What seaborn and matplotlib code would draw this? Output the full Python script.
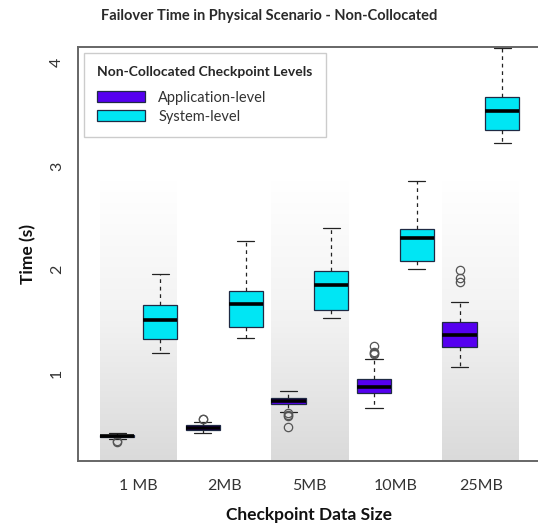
import numpy as np
import pandas as pd
import matplotlib
matplotlib.use("Agg")
import matplotlib.pyplot as plt
import seaborn as sns
from matplotlib.colors import LinearSegmentedColormap

# ---------------- data ----------------
sizes = ["1 MB", "2MB", "5MB", "10MB", "25MB"]
levels = ["Application-level", "System-level"]

app_1mb = [0.338, 0.343, 0.360, 0.382, 0.388, 0.391, 0.394, 0.398, 0.401, 0.405, 0.410, 0.415, 0.420]
app_2mb = [0.423, 0.435, 0.445, 0.454, 0.460, 0.466, 0.471, 0.477, 0.485, 0.493, 0.529, 0.556, 0.560]
app_5mb = [0.480, 0.580, 0.595, 0.610, 0.626, 0.700, 0.706, 0.712, 0.718, 0.724, 0.729,
           0.734, 0.740, 0.745, 0.750, 0.756, 0.765, 0.780, 0.795, 0.810, 0.826]
app_10mb = [0.659, 0.700, 0.740, 0.770, 0.790, 0.804, 0.815, 0.828, 0.840, 0.851, 0.862,
            0.875, 0.890, 0.905, 0.920, 0.939, 1.132, 1.180, 1.190, 1.206, 1.261]
app_25mb = [1.061, 1.120, 1.180, 1.220, 1.251, 1.280, 1.310, 1.340, 1.367,
            1.400, 1.430, 1.460, 1.496, 1.689, 1.882, 1.921, 1.995]

sys_1mb = [1.193, 1.332, 1.515, 1.657, 1.960]
sys_2mb = [1.338, 1.444, 1.664, 1.792, 2.275]
sys_5mb = [1.528, 1.612, 1.850, 1.988, 2.400]
sys_10mb = [2.002, 2.085, 2.301, 2.395, 2.855]
sys_25mb = [3.219, 3.348, 3.531, 3.670, 4.140]

app_data = [app_1mb, app_2mb, app_5mb, app_10mb, app_25mb]
sys_data = [sys_1mb, sys_2mb, sys_5mb, sys_10mb, sys_25mb]

rows = []
for size, a, s in zip(sizes, app_data, sys_data):
    rows += [(size, levels[0], v) for v in a]
    rows += [(size, levels[1], v) for v in s]
df = pd.DataFrame(rows, columns=["size", "level", "time"])

# ---------------- style ----------------
sns.set_style("white")
plt.rcParams["font.family"] = ["Lato", "DejaVu Sans"]

fig = plt.figure(figsize=(5.38, 5.25), dpi=100)
ax = fig.add_axes([78 / 538, 64 / 525, 462 / 538, 414 / 525])

# shaded gradient bands behind alternating groups
band_cmap = LinearSegmentedColormap.from_list("band", ["#dadada", "#f2f2f2", "#ffffff"])
grad = np.linspace(0, 1, 256).reshape(-1, 1)
for i in [0, 2, 4]:
    ax.imshow(grad, extent=(i - 0.45, i + 0.45, 0.15, 2.85), origin="lower",
              cmap=band_cmap, aspect="auto", zorder=0, interpolation="bicubic")

sns.boxplot(data=df, x="size", y="time", hue="level", order=sizes, hue_order=levels,
            palette=["#5500f0", "#00e6f4"], saturation=1, width=1.0, gap=0.2, linewidth=0.9,
            linecolor="#1f2a44",
            whiskerprops=dict(linestyle=(0, (3, 3)), color="#222222"),
            capprops=dict(color="#222222"),
            medianprops=dict(color="black", linewidth=2.6),
            flierprops=dict(marker="o", markerfacecolor="none",
                            markeredgecolor="#555555", markersize=6, markeredgewidth=0.9),
            ax=ax)

ax.set_xlim(-0.71, 4.69)
ax.set_ylim(0.15, 4.15)
ax.set_yticks([1, 2, 3, 4])
ax.set_yticklabels(["1", "2", "3", "4"], rotation=90, va="center")
ax.tick_params(axis="both", direction="out", length=7, width=1, color="#555555",
               labelsize=11.5, labelcolor="#333333", pad=6)
ax.tick_params(axis="y", pad=3)
for side in ["left", "bottom", "top"]:
    ax.spines[side].set_visible(True)
    ax.spines[side].set_color("#666666")
    ax.spines[side].set_linewidth(1.4)
ax.spines["right"].set_visible(False)

ax.set_xlabel("Checkpoint Data Size", fontsize=12.5, fontweight="bold", color="#111111", labelpad=10)
ax.set_ylabel("Time (s)", fontsize=12.5, fontweight="bold", color="#111111", labelpad=10)
fig.text(0.5, 1 - 16 / 525, "Failover Time in Physical Scenario - Non-Collocated",
         ha="center", va="center", fontsize=10.5, fontweight="bold", color="#2a2a2a")

handles, labels = ax.get_legend_handles_labels()
leg = ax.legend(handles, labels, title="Non-Collocated Checkpoint Levels",
                loc="upper left", bbox_to_anchor=(0.013, 0.9855), borderaxespad=0,
                frameon=True, fancybox=False, edgecolor="#cccccc", framealpha=1,
                handlelength=3.3, handleheight=0.85, handletextpad=0.9,
                alignment="left", fontsize=10.5, borderpad=0.9, labelspacing=0.35,
                title_fontproperties={"weight": "bold", "size": 10})
leg._legend_box.sep = 9
leg.get_frame().set_linewidth(1.0)
for t in leg.get_texts():
    t.set_color("#333333")

fig.savefig("out.png", dpi=100)
